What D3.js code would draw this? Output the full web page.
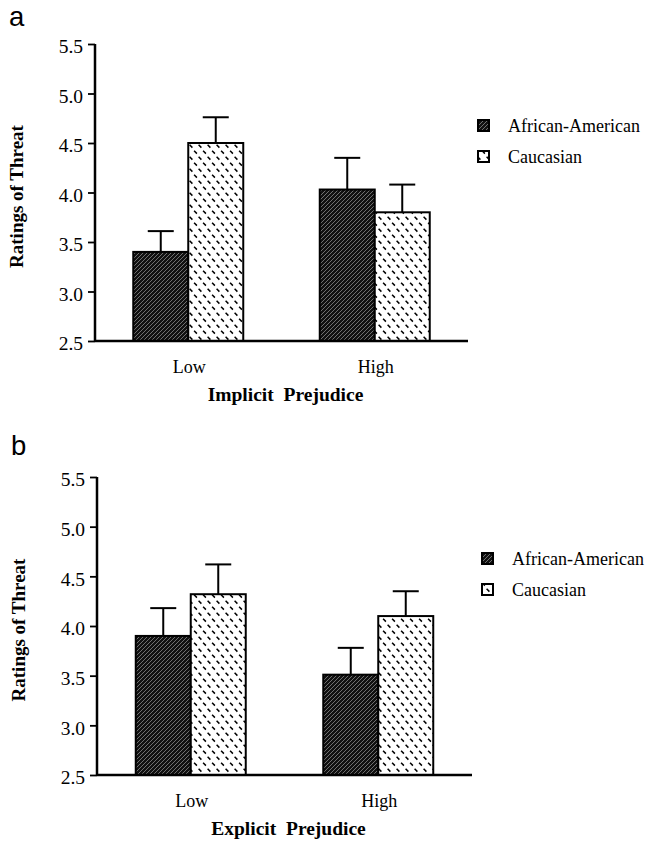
<!DOCTYPE html>
<html><head><meta charset="utf-8">
<script src="https://cdn.jsdelivr.net/npm/d3@7"></script>
<style>
html,body{margin:0;padding:0;background:#fff;}
svg{display:block;}
</style>
</head><body>
<svg id="chart" width="647" height="843"></svg>
<script>
// ---- data ----
const categories = ["Low", "High"];
const seriesNames = ["African-American", "Caucasian"];
const yTicks = [2.5, 3.0, 3.5, 4.0, 4.5, 5.0, 5.5];
const implicitAfricanAmerican = [3.40, 4.03];
const implicitAfricanAmericanSE = [0.21, 0.32];
const implicitCaucasian = [4.50, 3.80];
const implicitCaucasianSE = [0.26, 0.28];
const explicitAfricanAmerican = [3.90, 3.51];
const explicitAfricanAmericanSE = [0.28, 0.27];
const explicitCaucasian = [4.32, 4.10];
const explicitCaucasianSE = [0.30, 0.25];
const panelLabels = ["a", "b"];
const xTitles = ["Implicit  Prejudice", "Explicit  Prejudice"];
const yTitle = "Ratings of Threat";

const svg = d3.select("#chart");
const defs = svg.append("defs");

// pattern: African-American (dark with light diagonal hatch)
const pAA = defs.append("pattern").attr("id", "patAA")
  .attr("patternUnits", "userSpaceOnUse").attr("width", 4).attr("height", 4);
pAA.append("rect").attr("width", 4).attr("height", 4).attr("fill", "#111");
pAA.append("path").attr("d", "M-1,1 L1,-1 M0,4 L4,0 M3,5 L5,3")
  .attr("stroke", "#999").attr("stroke-width", 0.7);

// pattern: Caucasian (white with short dashes)
const pC = defs.append("pattern").attr("id", "patC")
  .attr("patternUnits", "userSpaceOnUse").attr("width", 9).attr("height", 12);
pC.append("rect").attr("width", 9).attr("height", 12).attr("fill", "#fff");
pC.append("path").attr("d", "M0.6,0.8 L3.4,3.6 M5.1,6.8 L7.9,9.6")
  .attr("stroke", "#000").attr("stroke-width", 1.5);

const fills = ["url(#patAA)", "url(#patC)"];

const panels = [
  { label: panelLabels[0], xTitle: xTitles[0],
    means: [implicitAfricanAmerican, implicitCaucasian],
    ses: [implicitAfricanAmericanSE, implicitCaucasianSE],
    x0: 95, x1: 468, yTop: 44, yBot: 341, labelX: 9, labelY: 25.5 },
  { label: panelLabels[1], xTitle: xTitles[1],
    means: [explicitAfricanAmerican, explicitCaucasian],
    ses: [explicitAfricanAmericanSE, explicitCaucasianSE],
    x0: 97, x1: 472, yTop: 477, yBot: 775, labelX: 11, labelY: 455 }
];

const serif = "'Liberation Serif', 'Times New Roman', Times, serif";
const barW = 55;

panels.forEach(p => {
  const g = svg.append("g");
  const y = d3.scaleLinear().domain([2.5, 5.5]).range([p.yBot, p.yTop]);
  const x = d3.scalePoint().domain(categories).range([p.x0, p.x1]).padding(0.5);
  const xs = d3.scaleBand().domain(seriesNames).range([-barW, barW]);

  // panel label
  svg.append("text").attr("x", p.labelX).attr("y", p.labelY)
    .style("font-family", "'Liberation Sans', Arial, Helvetica, sans-serif")
    .style("font-size", "27.5px").text(p.label);

  // bars
  seriesNames.forEach((s, si) => {
    categories.forEach((c, ci) => {
      const v = p.means[si][ci], se = p.ses[si][ci];
      const bx = x(c) + xs(s);
      const cx = bx + xs.bandwidth() / 2;
      g.append("line").attr("x1", cx).attr("x2", cx)
        .attr("y1", y(v)).attr("y2", y(v + se))
        .attr("stroke", "#000").attr("stroke-width", 2);
      g.append("line").attr("x1", cx - 13).attr("x2", cx + 13)
        .attr("y1", y(v + se)).attr("y2", y(v + se))
        .attr("stroke", "#000").attr("stroke-width", 2);
      g.append("rect").attr("x", bx).attr("y", y(v))
        .attr("width", xs.bandwidth()).attr("height", y(2.5) - y(v))
        .attr("fill", fills[si]).attr("stroke", "#000").attr("stroke-width", 2);
    });
  });

  // x baseline
  g.append("line").attr("x1", p.x0).attr("x2", p.x1)
    .attr("y1", p.yBot).attr("y2", p.yBot)
    .attr("stroke", "#000").attr("stroke-width", 2.5);

  // y axis
  const yAxis = d3.axisLeft(y).tickValues(yTicks).tickFormat(d3.format(".1f"))
    .tickSize(7).tickPadding(5);
  const ya = g.append("g").attr("transform", `translate(${p.x0},0)`).call(yAxis);
  ya.attr("font-family", null).attr("font-size", null)
    .style("font-family", serif).style("font-size", "19.5px");
  ya.select(".domain").attr("d", `M0,${p.yTop}V${p.yBot}`)
    .attr("stroke", "#000").attr("stroke-width", 2.5);
  ya.selectAll(".tick line").attr("stroke", "#000").attr("stroke-width", 1.8);
  ya.selectAll(".tick text").style("font-family", serif).style("font-size", "19.5px")
    .attr("fill", "#000").attr("dy", "0.45em");

  // category labels
  categories.forEach(c => {
    g.append("text").attr("x", x(c) + 1).attr("y", p.yBot + 32)
      .attr("text-anchor", "middle").style("font-family", serif)
      .style("font-size", "18px").text(c);
  });

  // x title
  g.append("text").attr("x", (p.x0 + p.x1) / 2 + 4).attr("y", p.yBot + 60)
    .attr("text-anchor", "middle").style("font-family", serif)
    .style("font-weight", "bold").style("font-size", "19.5px")
    .style("white-space", "pre").text(p.xTitle);

  // y title
  const ym = (p.yTop + p.yBot) / 2 + 4;
  g.append("text").attr("transform", `translate(${p.x0 - 72},${ym}) rotate(-90)`)
    .attr("text-anchor", "middle").style("font-family", serif)
    .style("font-weight", "bold").style("font-size", "19px").text(yTitle);

  // legend
  seriesNames.forEach((s, si) => {
    const ly = p.yTop + 76 + si * 31;
    const lx = p.x1 + 10;
    g.append("rect").attr("x", lx).attr("y", ly).attr("width", 11).attr("height", 11)
      .attr("fill", fills[si]).attr("stroke", "#000").attr("stroke-width", 2);
    g.append("text").attr("x", lx + 30).attr("y", ly + 12)
      .style("font-family", serif).style("font-size", "18px").text(s);
  });
});
</script>
</body></html>
